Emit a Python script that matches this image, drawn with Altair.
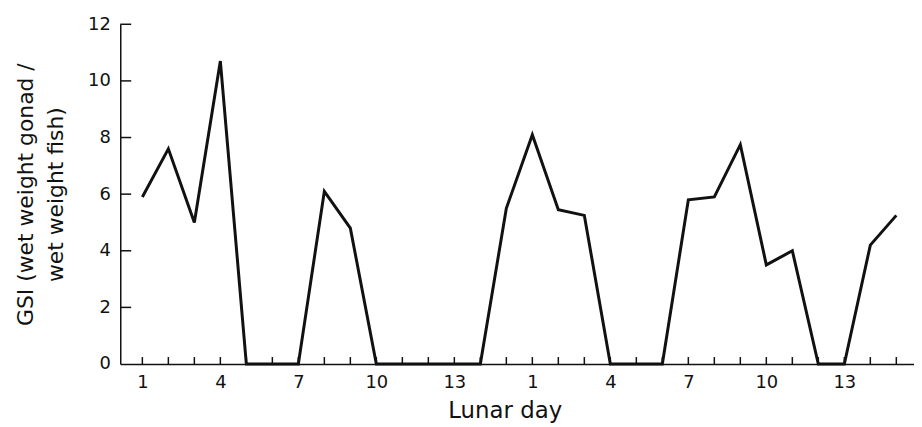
import altair as alt
import pandas as pd

# Lunar day index 0..29 (two lunar half-cycles of 15 days)
day_index = list(range(30))
gsi = [5.9, 7.6, 5.0, 10.7, 0, 0, 0, 6.1, 4.8, 0,
       0, 0, 0, 0, 5.5, 8.1, 5.45, 5.25, 0, 0,
       0, 5.8, 5.9, 7.75, 3.5, 4.0, 0, 0, 4.2, 5.25]
x_label_values = [0, 3, 6, 9, 12, 15, 18, 21, 24, 27]
y_tick_values = [0, 2, 4, 6, 8, 10, 12]

df = pd.DataFrame({"i": day_index, "gsi": gsi})
xticks = pd.DataFrame({"i": day_index})
yticks = pd.DataFrame({"v": y_tick_values[1:]})

W, H = 799, 342
FONT = "DejaVu Sans"
INK = "#111111"

xscale = alt.Scale(domain=[-0.85, 29.68], nice=False, zero=False)
yscale = alt.Scale(domain=[0, 12], nice=False)

line = alt.Chart(df).mark_line(color=INK, strokeWidth=3, strokeJoin="miter").encode(
    x=alt.X("i:Q", scale=xscale,
            axis=alt.Axis(values=x_label_values, labelExpr="(datum.value % 15) + 1",
                          title="Lunar day", ticks=False, grid=False,
                          domainColor=INK, domainWidth=1.5, labelColor=INK,
                          labelFont=FONT, labelFontSize=18, labelPadding=10,
                          titleFont=FONT, titleFontSize=23, titleFontWeight="normal",
                          titleColor=INK, titleX=387, titleY=54,
                          titleBaseline="alphabetic")),
    y=alt.Y("gsi:Q", scale=yscale,
            axis=alt.Axis(values=y_tick_values, ticks=False, grid=False,
                          domainColor=INK, domainWidth=1.5, labelColor=INK,
                          labelFont=FONT, labelFontSize=18, labelPadding=10,
                          title=["GSI (wet weight gonad /", "wet weight fish)"],
                          titleFont=FONT, titleFontSize=22, titleFontWeight="normal",
                          titleColor=INK, titlePadding=20, titleLineHeight=30)),
)

xtick_rules = alt.Chart(xticks).mark_rule(color=INK, strokeWidth=1.5).encode(
    x=alt.X("i:Q", scale=xscale),
    y=alt.value(H),
    y2=alt.value(H - 7),
)

ytick_rules = alt.Chart(yticks).mark_rule(color=INK, strokeWidth=1.5).encode(
    y=alt.Y("v:Q", scale=yscale),
    x=alt.value(0),
    x2=alt.value(11),
)

chart = alt.layer(xtick_rules, ytick_rules, line).properties(
    width=W, height=H,
    background="white",
    autosize=alt.AutoSizeParams(type="none"),
    padding={"left": 113, "top": 15, "right": 0, "bottom": 60},
).configure_view(stroke=None)

chart.save("out.html", embed_options={"renderer": "svg", "actions": False})
